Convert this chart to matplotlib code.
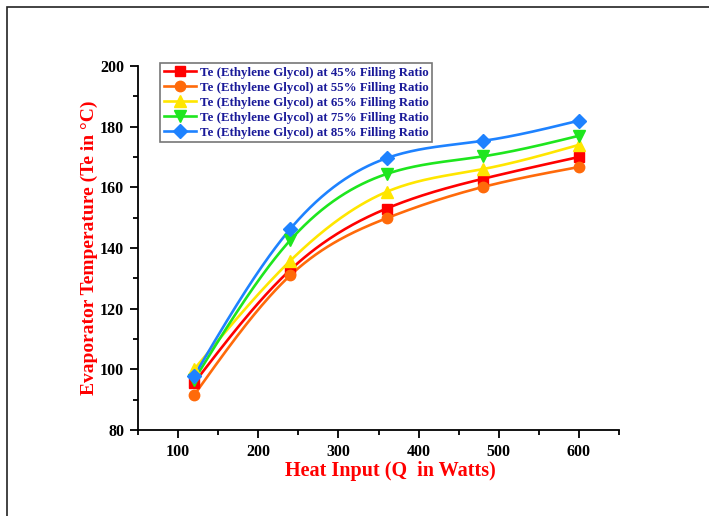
import numpy as np
import matplotlib
matplotlib.use("Agg")
import matplotlib.pyplot as plt
from matplotlib.patches import Rectangle

heat_input = [120, 240, 360, 480, 600]
te_45 = [95.5, 132.8, 153.0, 162.8, 170.0]
te_55 = [91.5, 131.0, 149.8, 160.1, 166.7]
te_65 = [100.0, 135.8, 158.5, 166.0, 174.0]
te_75 = [96.5, 142.6, 164.4, 170.2, 177.0]
te_85 = [97.8, 146.3, 169.6, 175.3, 182.0]
labels = ["Te (Ethylene Glycol) at 45% Filling Ratio",
          "Te (Ethylene Glycol) at 55% Filling Ratio",
          "Te (Ethylene Glycol) at 65% Filling Ratio",
          "Te (Ethylene Glycol) at 75% Filling Ratio",
          "Te (Ethylene Glycol) at 85% Filling Ratio"]
colors = ["#FF0000", "#FF6A0A", "#FFE600", "#1EE61E", "#1E82FF"]
markers = ["s", "o", "^", "v", "D"]
msizes = [7, 7.5, 8, 8, 7]


def natural_spline(x, y, n=200):
    x = np.asarray(x, float); y = np.asarray(y, float)
    k = len(x); h = np.diff(x)
    A = np.zeros((k, k)); b = np.zeros(k)
    A[0, 0] = 1; A[-1, -1] = 1
    for i in range(1, k - 1):
        A[i, i - 1] = h[i - 1]; A[i, i] = 2 * (h[i - 1] + h[i]); A[i, i + 1] = h[i]
        b[i] = 3 * ((y[i + 1] - y[i]) / h[i] - (y[i] - y[i - 1]) / h[i - 1])
    c = np.linalg.solve(A, b)
    xs = np.linspace(x[0], x[-1], n); ys = np.empty_like(xs)
    for j, xv in enumerate(xs):
        i = min(np.searchsorted(x, xv, side="right") - 1, k - 2)
        dx = xv - x[i]
        bi = (y[i + 1] - y[i]) / h[i] - h[i] * (2 * c[i] + c[i + 1]) / 3
        di = (c[i + 1] - c[i]) / (3 * h[i])
        ys[j] = y[i] + bi * dx + c[i] * dx ** 2 + di * dx ** 3
    return xs, ys


plt.rcParams["font.family"] = ["Liberation Serif", "DejaVu Serif"]
plt.rcParams["font.weight"] = "bold"

fig = plt.figure(figsize=(7.09, 5.16), dpi=100)
fig.patches.append(Rectangle((7 / 709, -0.1), 1.2, 1 - 7 / 516 + 0.1, transform=fig.transFigure,
                             fill=False, edgecolor="#222222", linewidth=1.2, zorder=0))
ax = fig.add_axes([138 / 709, 86 / 516, 481 / 709, 364 / 516])

handles = []
for ys, col, m, ms, lab in zip([te_45, te_55, te_65, te_75, te_85], colors, markers, msizes, labels):
    sx, sy = natural_spline(heat_input, ys)
    ax.plot(sx, sy, color=col, lw=1.9, zorder=2)
    ax.plot(heat_input, ys, linestyle="none", marker=m, ms=ms, color=col, zorder=3)
    h, = ax.plot([], [], color=col, lw=1.9, marker=m, ms=ms)
    handles.append(h)

ax.set_xlim(50, 650)
ax.set_ylim(80, 200)
ax.set_xticks([100, 200, 300, 400, 500, 600])
ax.set_xticks(np.arange(50, 651, 100), minor=True)
ax.set_yticks(np.arange(80, 201, 20))
ax.set_yticks(np.arange(90, 200, 20), minor=True)
for s in ["top", "right"]:
    ax.spines[s].set_visible(False)
for s in ["left", "bottom"]:
    ax.spines[s].set_linewidth(1.3)
ax.tick_params(which="major", direction="out", length=6, width=1.3, labelsize=11.5, pad=4)
ax.tick_params(which="minor", direction="out", length=3.5, width=1.3)
for t in ax.get_xticklabels() + ax.get_yticklabels():
    t.set_fontweight("bold")

ax.set_xlabel("Heat Input (Q  in Watts)", color="#FF0000", fontsize=14.5, fontweight="bold", labelpad=3)
ax.xaxis.set_label_coords(0.525, -0.085)
ax.set_ylabel("Evaporator Temperature (Te in \u00b0C)", color="#FF0000", fontsize=14,
              fontweight="bold", labelpad=6)
ax.yaxis.set_label_coords(-0.083, 0.50)

leg = ax.legend(handles, labels, loc="upper left", bbox_to_anchor=(0.045, 1.008),
                fontsize=9.3, frameon=True, fancybox=False, shadow=False,
                handlelength=2.5, handletextpad=0.3, labelspacing=0.22, borderpad=0.3,
                borderaxespad=0)
leg.get_frame().set_edgecolor("#555555")
leg.get_frame().set_linewidth(1.2)
for t in leg.get_texts():
    t.set_color("#1A1A99")
    t.set_fontweight("bold")

fig.savefig("out.png", dpi=100)
